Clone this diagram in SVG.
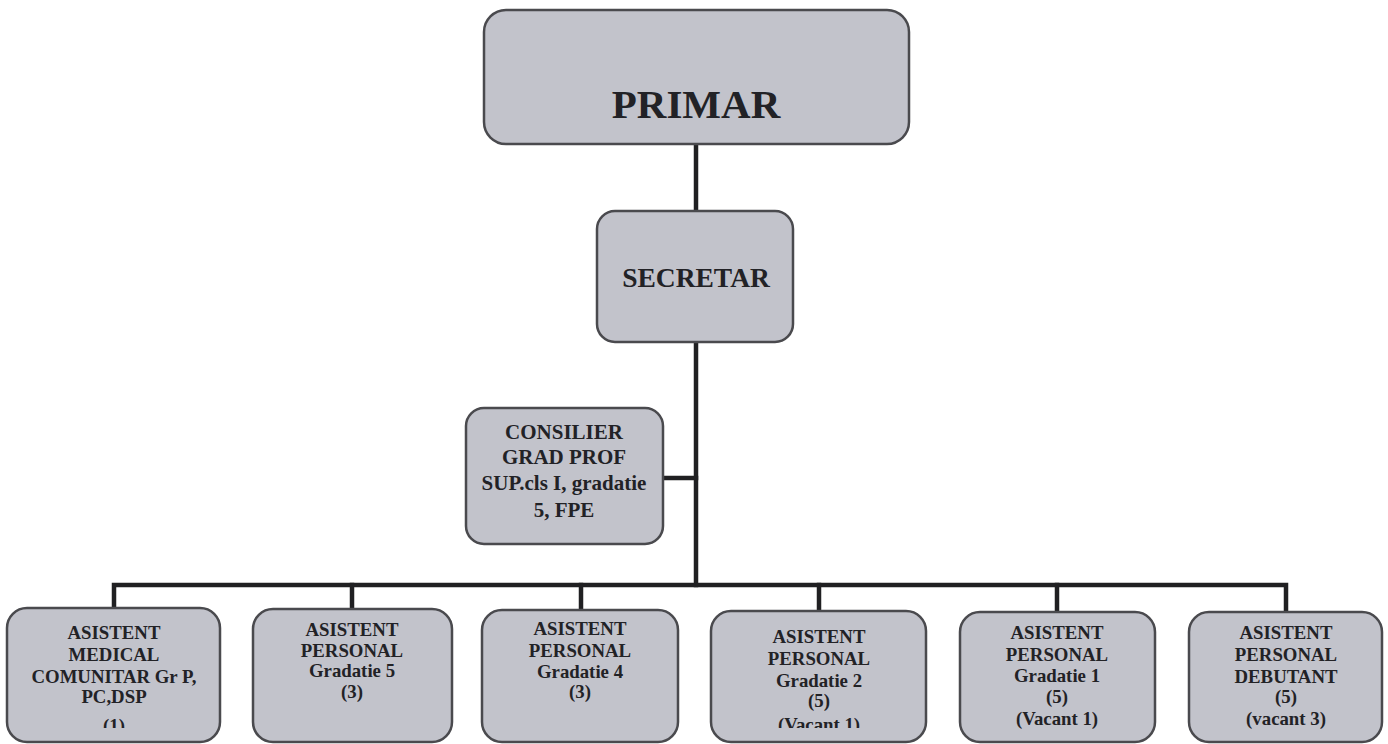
<svg xmlns="http://www.w3.org/2000/svg" width="1388" height="744" viewBox="0 0 1388 744">
<style>
.box{fill:#c2c3cb;stroke:#4a4a4e;stroke-width:2.5}
.t{font-family:"Liberation Serif","Times New Roman",serif;font-weight:bold;fill:#222226;text-anchor:middle}
.s{font-size:18.8px}
.ln{stroke:#202022;stroke-width:4.5;fill:none;stroke-linecap:square}
</style>
<defs>
<clipPath id="cut"><rect x="0" y="0" width="1388" height="728"/></clipPath>
</defs>
<rect width="1388" height="744" fill="#ffffff"/>
<g id="connectors">
<path class="ln" d="M696 144 V211"/>
<path class="ln" d="M696 342 V585"/>
<path class="ln" d="M663 478 H696"/>
<path class="ln" d="M114 609 V585 H1286 V612"/>
<path class="ln" d="M352 585 V609"/>
<path class="ln" d="M581 585 V610"/>
<path class="ln" d="M819 585 V611"/>
<path class="ln" d="M1057 585 V612"/>
</g>
<g id="primar">
<rect class="box" x="484" y="10" width="425" height="134" rx="22"/>
<text class="t" x="696" y="118" font-size="41">PRIMAR</text>
</g>
<g id="secretar">
<rect class="box" x="597" y="211" width="196" height="131" rx="18"/>
<text class="t" x="696" y="287" font-size="27.5">SECRETAR</text>
</g>
<g id="consilier">
<rect class="box" x="466" y="408" width="197" height="136" rx="18"/>
<text class="t" x="564" y="439" font-size="21">CONSILIER</text>
<text class="t" x="564" y="464" font-size="21">GRAD PROF</text>
<text class="t" x="564" y="490" font-size="21">SUP.cls I, gradatie</text>
<text class="t" x="564" y="517" font-size="21">5, FPE</text>
</g>
<g id="asistent-medical">
<rect class="box" x="7" y="608" width="213" height="134" rx="20"/>
<text class="t s" x="114" y="639">ASISTENT</text>
<text class="t s" x="114" y="661">MEDICAL</text>
<text class="t s" x="114" y="683">COMUNITAR Gr P,</text>
<text class="t s" x="114" y="703">PC,DSP</text>
<text class="t s" x="114" y="732" clip-path="url(#cut)">(1)</text>
</g>
<g id="gradatie5">
<rect class="box" x="253" y="609" width="199" height="133" rx="20"/>
<text class="t s" x="352" y="636">ASISTENT</text>
<text class="t s" x="352" y="657">PERSONAL</text>
<text class="t s" x="352" y="677">Gradatie 5</text>
<text class="t s" x="352" y="698">(3)</text>
</g>
<g id="gradatie4">
<rect class="box" x="482" y="610" width="196" height="132" rx="20"/>
<text class="t s" x="580" y="635">ASISTENT</text>
<text class="t s" x="580" y="657">PERSONAL</text>
<text class="t s" x="580" y="678">Gradatie 4</text>
<text class="t s" x="580" y="698">(3)</text>
</g>
<g id="gradatie2">
<rect class="box" x="711" y="611" width="215" height="131" rx="20"/>
<text class="t s" x="819" y="643">ASISTENT</text>
<text class="t s" x="819" y="665">PERSONAL</text>
<text class="t s" x="819" y="687">Gradatie 2</text>
<text class="t s" x="819" y="707">(5)</text>
<text class="t s" x="819" y="731" clip-path="url(#cut)">(Vacant 1)</text>
</g>
<g id="gradatie1">
<rect class="box" x="960" y="612" width="195" height="130" rx="20"/>
<text class="t s" x="1057" y="639">ASISTENT</text>
<text class="t s" x="1057" y="661">PERSONAL</text>
<text class="t s" x="1057" y="682">Gradatie 1</text>
<text class="t s" x="1057" y="703">(5)</text>
<text class="t s" x="1057" y="725">(Vacant 1)</text>
</g>
<g id="debutant">
<rect class="box" x="1189" y="612" width="193" height="130" rx="20"/>
<text class="t s" x="1286" y="639">ASISTENT</text>
<text class="t s" x="1286" y="661">PERSONAL</text>
<text class="t s" x="1286" y="683">DEBUTANT</text>
<text class="t s" x="1286" y="703">(5)</text>
<text class="t s" x="1286" y="725">(vacant 3)</text>
</g>
</svg>
